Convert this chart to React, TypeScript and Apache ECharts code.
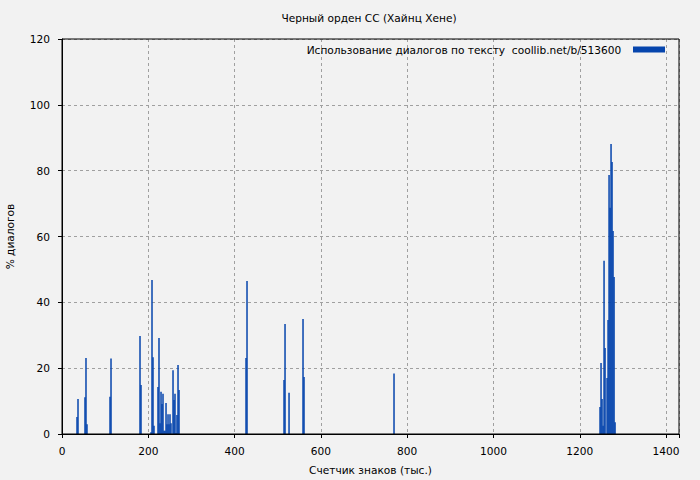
import React, { useEffect, useRef } from "react";
import * as echarts from "echarts";

const TITLE = "Черный орден СС (Хайнц Хене)";
const SERIES_NAME = "Использование диалогов по тексту  coollib.net/b/513600";
const X_NAME = "Счетчик знаков (тыс.)";
const Y_NAME = "% диалогов";

// x positions (thousand chars)
const xs: number[] = [
  34.8, 37.1, 53.3, 55.6, 57.9, 111.3, 113.6, 180.8, 183.1,
  206.3, 208.6, 210.9, 213.2,
  222.5, 224.8, 227.2, 229.5, 231.8, 234.1, 236.4, 238.7, 241.1, 243.4,
  245.7, 248.0, 250.3, 252.6, 257.3, 259.6, 261.9, 264.2, 266.5, 268.9, 271.2,
  426.5, 428.8, 514.6, 516.9, 526.2, 558.6, 560.9, 769.5,
  1247.0, 1249.3, 1251.6, 1254.0, 1256.3, 1258.6, 1263.3, 1265.6, 1267.9,
  1270.2, 1272.5, 1274.8, 1277.1, 1279.5, 1281.8,
];
// % dialogues
const ys: number[] = [
  5.2, 10.6, 11.2, 23.1, 3.0, 11.3, 22.9, 29.8, 14.9,
  0.5, 46.8, 23.3, 2.5,
  14.3, 29.2, 3.3, 12.8, 9.1, 12.2, 1.0, 1.0, 9.4, 3.0,
  6.0, 3.0, 6.0, 3.3, 19.4, 10.3, 12.2, 0.3, 5.8, 21.0, 13.4,
  23.1, 46.5, 16.4, 33.4, 12.5, 34.9, 17.3, 18.4,
  8.2, 21.6, 10.6, 2.5, 52.6, 26.1, 17.0, 34.6, 78.7,
  68.7, 88.1, 82.6, 61.7, 47.7, 3.6,
];

const X_MIN = 0;
const X_MAX = 1430;
const X_STEP = 200;
const Y_MIN = 0;
const Y_MAX = 120;
const Y_STEP = 20;

const FONT = "DejaVu Sans";
const FS = 10.6;

export default function App() {
  const ref = useRef<HTMLDivElement>(null);
  useEffect(() => {
    if (!ref.current) return;
    const chart = echarts.init(ref.current, undefined, { renderer: "svg" });
    const data = xs.map((x, i) => [x, ys[i]]);
    chart.setOption({
      animation: false,
      backgroundColor: "#f2f2f2",
      textStyle: { fontFamily: FONT },
      graphic: [
        {
          type: "text",
          x: 369,
          y: 18,
          style: {
            text: TITLE,
            fill: "#000",
            font: `${FS}px "${FONT}"`,
            textAlign: "center",
            textVerticalAlign: "middle",
          },
        },
        {
          type: "rect",
          z: 100,
          silent: true,
          shape: { x: 62, y: 39, width: 617, height: 395 },
          style: { fill: "none", stroke: "#000", lineWidth: 1 },
        },
      ],
      legend: {
        show: true,
        right: 35,
        top: 44,
        padding: 0,
        align: "right",
        icon: "rect",
        itemWidth: 32,
        itemHeight: 6,
        formatter: (n: string) => n + "  ",
        textStyle: { color: "#000", fontSize: FS, fontFamily: FONT },
        data: [SERIES_NAME],
      },
      grid: {
        left: 62,
        right: 21,
        top: 39,
        bottom: 46,
        containLabel: false,
        outerBoundsMode: "none",
      },
      xAxis: {
        type: "value",
        min: X_MIN,
        max: X_MAX,
        interval: X_STEP,
        name: X_NAME,
        nameLocation: "middle",
        nameGap: 30,
        nameTextStyle: { color: "#000", fontSize: FS, fontFamily: FONT },
        axisLine: { show: true, lineStyle: { color: "#000", width: 1 } },
        axisTick: { show: true, length: 4, lineStyle: { color: "#000" } },
        axisLabel: {
          color: "#000",
          fontSize: FS,
          fontFamily: FONT,
          margin: 11,
          formatter: (v: number) => (v % X_STEP === 0 ? String(v) : ""),
        },
        splitLine: {
          show: true,
          lineStyle: { color: "#a0a0a0", type: [3, 3], width: 1 },
        },
      },
      yAxis: {
        type: "value",
        min: Y_MIN,
        max: Y_MAX,
        interval: Y_STEP,
        name: Y_NAME,
        nameLocation: "middle",
        nameRotate: 90,
        nameGap: 47,
        nameTextStyle: { color: "#000", fontSize: FS, fontFamily: FONT },
        axisLine: { show: true, lineStyle: { color: "#000", width: 1 } },
        axisTick: { show: true, length: 4, lineStyle: { color: "#000" } },
        axisLabel: { color: "#000", fontSize: FS, fontFamily: FONT, margin: 12 },
        splitLine: {
          show: true,
          lineStyle: { color: "#a0a0a0", type: [3, 3], width: 1 },
        },
      },
      series: [
        {
          name: SERIES_NAME,
          type: "bar",
          data,
          barWidth: 1.5,
          itemStyle: { color: "#0645ad" },
        },
      ],
    });
    return () => chart.dispose();
  }, []);
  return (
    <div
      ref={ref}
      style={{ position: "fixed", left: 0, top: 0, width: 700, height: 480 }}
    />
  );
}
